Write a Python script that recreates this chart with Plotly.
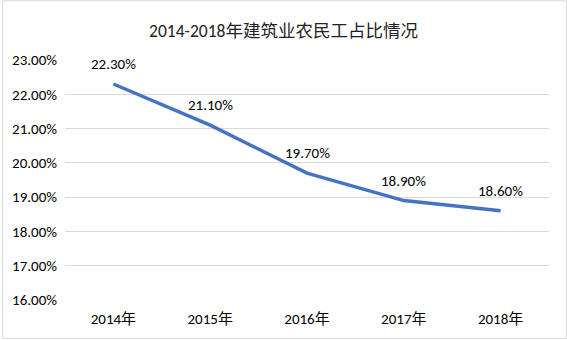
import plotly.graph_objects as go

years = ["2014年", "2015年", "2016年", "2017年", "2018年"]
shares = [0.223, 0.211, 0.197, 0.189, 0.186]
labels = ["22.30%", "21.10%", "19.70%", "18.90%", "18.60%"]
title = "2014-2018年建筑业农民工占比情况"

W, H = 567, 340
L, R, T, B = 63, 18, 60, 39
pw, ph = W - L - R, H - T - B

font_main = "Calibri, Carlito, Lato, 'Noto Sans CJK SC', sans-serif"

fig = go.Figure()
fig.add_trace(go.Scatter(
    x=years, y=shares, mode="lines",
    line=dict(color="#4472C4", width=3.5),
    cliponaxis=False, hoverinfo="skip",
))

for yr, v, lab in zip(years, shares, labels):
    fig.add_annotation(x=yr, y=v, text=lab, showarrow=False, yshift=20,
                       xanchor="center", yanchor="middle",
                       font=dict(size=15, color="#000000", family=font_main))

fig.update_layout(
    width=W, height=H,
    margin=dict(l=L, r=R, t=T, b=B, pad=0),
    paper_bgcolor="white", plot_bgcolor="white",
    showlegend=False,
    title=dict(text=title, x=0.5, xanchor="center", y=1 - 31 / H, yanchor="middle",
               font=dict(size=17.5, color="#222222", family="Calibri, Lato, 'Noto Sans CJK SC', sans-serif")),
    font=dict(family=font_main, size=15, color="#000000"),
    xaxis=dict(type="category", range=[-0.5, 4.5], showgrid=False, showline=False,
               ticks="", ticklabelstandoff=8, tickfont=dict(size=15, color="#000000"), fixedrange=True),
    yaxis=dict(range=[0.16, 0.23], dtick=0.01, tickformat=".2%", showgrid=True,
               gridcolor="#D9D9D9", gridwidth=1, zeroline=False, showline=False,
               ticks="", ticklabelstandoff=7, tickfont=dict(size=15, color="#000000"), fixedrange=True),
    shapes=[dict(type="rect", xref="paper", yref="paper",
                 x0=(0.5 - L) / pw, x1=(W - 0.5 - L) / pw,
                 y0=-(B - 0.5) / ph, y1=1 + (T - 0.5) / ph,
                 line=dict(color="#D9D9D9", width=1), fillcolor="rgba(0,0,0,0)")],
)

fig.write_html("out.html", config={"displayModeBar": False},
               post_script="document.body.style.margin='0';document.body.style.overflow='hidden';")
